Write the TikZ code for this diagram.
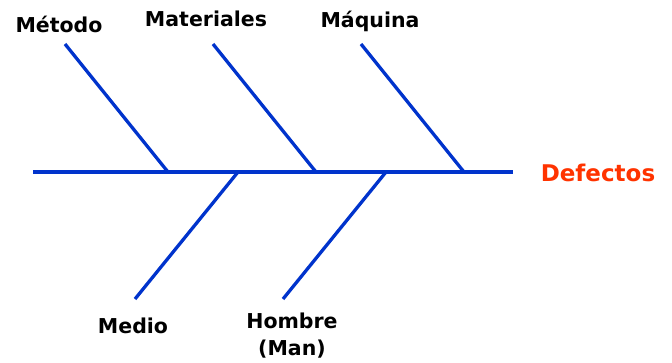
\documentclass[tikz,border=0pt]{standalone}
\usepackage{fontspec}
\setmainfont{DejaVu Sans}
\usepackage{xcolor}
\usepackage{tikz}
\usetikzlibrary{positioning}
\definecolor{boneblue}{RGB}{0,51,204}
\definecolor{effectred}{RGB}{255,51,0}

\begin{document}
\begin{tikzpicture}[
  x=1pt, y=-1pt,
  bone/.style={draw=boneblue, line width=3.3pt},
  cause/.style={anchor=base, inner sep=0pt, align=center,
      font=\bfseries\fontsize{20.5}{27}\selectfont},
  effect/.style={anchor=base, inner sep=0pt, text=effectred,
      font=\bfseries\fontsize{23}{27}\selectfont}
]
\useasboundingbox (0,0) rectangle (672,362);
\coordinate (tail) at (33,172);
\coordinate (head) at (513,172);
\coordinate (jmetodo) at (168,172);
\coordinate (jmat) at (316,172);
\coordinate (jmaq) at (464,172);
\coordinate (jmedio) at (238,172);
\coordinate (jhombre) at (386,172);
\coordinate (tmetodo) at (65,44);
\coordinate (tmat) at (213,44);
\coordinate (tmaq) at (361,44);
\coordinate (tmedio) at (135,299);
\coordinate (thombre) at (283,299);

\node[cause] (metodo) at (59,32) {Método};
\node[cause] (mat) at (206,26) {Materiales};
\node[cause] (maq) at (370,27) {Máquina};
\node[cause] (medio) at (133,333) {Medio};
\node[cause] (hombre) at (292,355) {Hombre\\(Man)};
\node[effect] (defectos) at (598,181) {Defectos};

\draw[bone] (tail) -- (head);
\draw[bone] (tmetodo) -- (jmetodo);
\draw[bone] (tmat) -- (jmat);
\draw[bone] (tmaq) -- (jmaq);
\draw[bone] (jmedio) -- (tmedio);
\draw[bone] (jhombre) -- (thombre);
\end{tikzpicture}
\end{document}
